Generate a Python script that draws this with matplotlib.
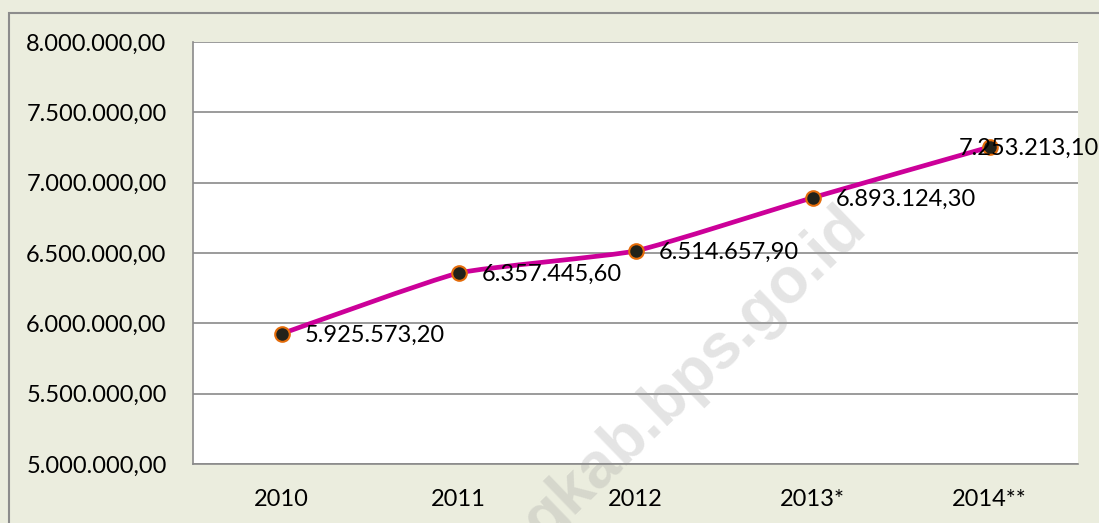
import matplotlib
matplotlib.use("Agg")
import matplotlib.pyplot as plt
from matplotlib.patches import Rectangle, PathPatch
from matplotlib.path import Path
from matplotlib.ticker import FuncFormatter

years = ["2010", "2011", "2012", "2013*", "2014**"]
values = [5925573.20, 6357445.60, 6514657.90, 6893124.30, 7253213.10]
y_ticks = [5000000, 5500000, 6000000, 6500000, 7000000, 7500000, 8000000]
watermark = "gkab.bps.go.id"

BG = "#EBEDDE"
GRID = "#8A8A8A"
LINE = "#CC0099"
FONT = "Lato"
TENSION = 1 / 14  # reference line is only slightly smoothed


def fmt_id(v, pos=None):
    # Indonesian style: dot thousands, comma decimals
    s = f"{v:,.2f}"
    return s.replace(",", "X").replace(".", ",").replace("X", ".")


def smooth_path(xs, ys, t=TENSION):
    # lightly smoothed line: cubic Bezier with Catmull-Rom style control points
    n = len(xs)
    verts = [(xs[0], ys[0])]
    codes = [Path.MOVETO]
    for i in range(n - 1):
        x0, y0 = (xs[i - 1], ys[i - 1]) if i > 0 else (xs[i], ys[i])
        x3, y3 = (xs[i + 2], ys[i + 2]) if i + 2 < n else (xs[i + 1], ys[i + 1])
        c1 = (xs[i] + (xs[i + 1] - x0) * t, ys[i] + (ys[i + 1] - y0) * t)
        c2 = (xs[i + 1] - (x3 - xs[i]) * t, ys[i + 1] - (y3 - ys[i]) * t)
        verts += [c1, c2, (xs[i + 1], ys[i + 1])]
        codes += [Path.CURVE4] * 3
    return Path(verts, codes)


fig = plt.figure(figsize=(10.99, 5.23), dpi=100)
fig.patch.set_facecolor(BG)
fig.patches.append(Rectangle((9 / 1099, -0.2), 1.2, 1.2 - 13 / 523,
                             transform=fig.transFigure, fill=False,
                             edgecolor="#8C8C8C", linewidth=1.5))

ax = fig.add_axes([193 / 1099, 59 / 523, 885 / 1099, 422 / 523])
ax.set_facecolor("white")

x = [i + 0.5 for i in range(len(years))]
ax.set_xlim(0, len(years))
ax.set_ylim(y_ticks[0], y_ticks[-1])

ax.set_yticks(y_ticks)
ax.yaxis.set_major_formatter(FuncFormatter(fmt_id))
ax.set_xticks(x)
ax.set_xticklabels(years)
ax.tick_params(axis="both", length=0, labelsize=17, colors="black")
ax.tick_params(axis="y", pad=19)
ax.tick_params(axis="x", pad=18)
for lab in ax.get_xticklabels() + ax.get_yticklabels():
    lab.set_fontfamily(FONT)

ax.grid(axis="y", color=GRID, linewidth=1.2)
ax.set_axisbelow(True)
for side in ["top", "right"]:
    ax.spines[side].set_visible(False)
for side in ["left", "bottom"]:
    ax.spines[side].set_color(GRID)
    ax.spines[side].set_linewidth(1.2)

# faint diagonal watermark, as in the source image
ax.text(706 / 1099, 1 - 386 / 523, watermark, transform=fig.transFigure,
        rotation=44, rotation_mode="anchor", ha="center", va="baseline",
        fontsize=46, fontweight="bold", family="Liberation Sans",
        color="#A0A0A0", alpha=0.28, zorder=1, clip_on=False)

ax.add_patch(PathPatch(smooth_path(x, values), facecolor="none",
                       edgecolor=LINE, linewidth=3.4, zorder=3,
                       capstyle="round", joinstyle="round"))
ax.plot(x, values, linestyle="none", zorder=3.5,
        marker="o", markersize=10.5, markerfacecolor="#22221A",
        markeredgecolor="#E46C0A", markeredgewidth=1.5)

for i, (xi, v) in enumerate(zip(x, values)):
    dx = -22 if i == len(values) - 1 else 16.5
    ax.annotate(fmt_id(v), (xi, v), xytext=(dx, -1), textcoords="offset points",
                ha="left", va="center", fontsize=17, family=FONT, zorder=4)

fig.savefig("out.png", dpi=100, facecolor=BG)
